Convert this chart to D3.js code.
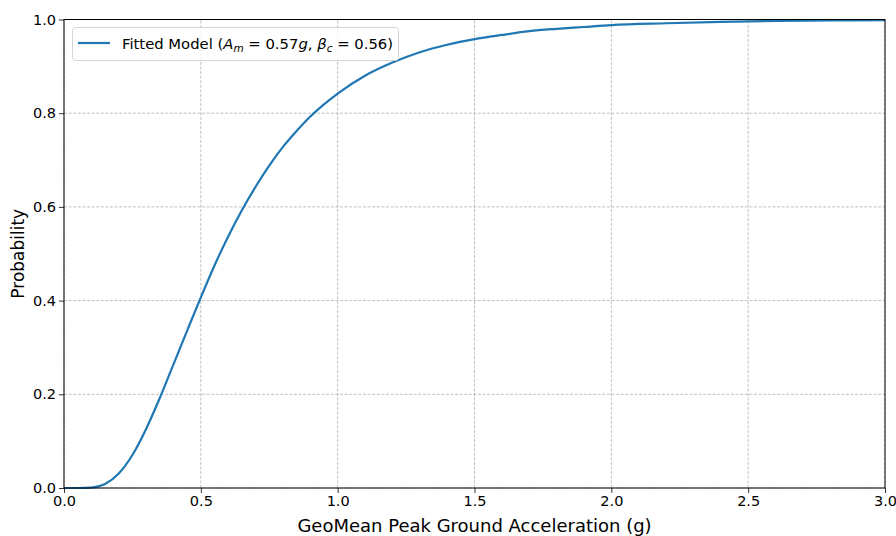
<!DOCTYPE html>
<html>
<head>
<meta charset="utf-8">
<script src="https://cdn.jsdelivr.net/npm/d3@7"></script>
<style>
  html, body { margin: 0; padding: 0; background: #fff; }
  svg { display: block; font-family: "DejaVu Sans", sans-serif; }
</style>
</head>
<body>
<svg id="chart" width="896" height="536"></svg>
<script>
// Fragility curve: probability of exceedance vs. geomean PGA
const pga = [0.0, 0.05, 0.1, 0.15, 0.2, 0.25, 0.3, 0.35, 0.4, 0.45, 0.5, 0.55, 0.6, 0.65, 0.7, 0.75,
             0.8, 0.85, 0.9, 0.95, 1.0, 1.1, 1.2, 1.3, 1.4, 1.5, 1.6, 1.7, 1.8, 1.9, 2.0,
             2.2, 2.4, 2.6, 2.8, 3.0];
const probability = [0.0, 0.00001, 0.0009, 0.0086, 0.031, 0.0705, 0.126, 0.192, 0.264, 0.336, 0.407,
                     0.475, 0.537, 0.593, 0.643, 0.688, 0.728, 0.762, 0.793, 0.819, 0.842,
                     0.880, 0.908, 0.930, 0.946, 0.958, 0.967, 0.975, 0.980, 0.984, 0.988,
                     0.992, 0.995, 0.997, 0.998, 0.9985];
const xTicks = [0.0, 0.5, 1.0, 1.5, 2.0, 2.5, 3.0];
const yTicks = [0.0, 0.2, 0.4, 0.6, 0.8, 1.0];

const svg = d3.select("#chart");
const margin = { left: 64, right: 11, top: 19.5, bottom: 48 };
const W = 896, H = 536;

const x = d3.scaleLinear().domain([0, 3]).range([margin.left, W - margin.right]);
const y = d3.scaleLinear().domain([0, 1]).range([H - margin.bottom, margin.top]);

// grid
const grid = svg.append("g");
grid.selectAll("line.gx").data(xTicks).join("line")
  .attr("x1", d => x(d)).attr("x2", d => x(d))
  .attr("y1", y(0)).attr("y2", y(1))
  .attr("stroke", "#b0b0b0").attr("stroke-width", 0.8).attr("stroke-dasharray", "3,1.6");
grid.selectAll("line.gy").data(yTicks).join("line")
  .attr("x1", x(0)).attr("x2", x(3))
  .attr("y1", d => y(d)).attr("y2", d => y(d))
  .attr("stroke", "#b0b0b0").attr("stroke-width", 0.8).attr("stroke-dasharray", "3,1.6");

// curve
const line = d3.line()
  .x((d, i) => x(pga[i]))
  .y(d => y(d))
  .curve(d3.curveMonotoneX);

svg.append("defs").append("clipPath").attr("id", "clip")
  .append("rect").attr("x", x(0)).attr("y", y(1) - 2).attr("width", x(3) - x(0)).attr("height", y(0) - y(1) + 4);

svg.append("path")
  .datum(probability)
  .attr("d", line)
  .attr("fill", "none")
  .attr("stroke", "#1f77b4")
  .attr("stroke-width", 2.2)
  .attr("clip-path", "url(#clip)");

// axes
const xAxis = d3.axisBottom(x).tickValues(xTicks).tickFormat(d3.format(".1f")).tickSize(5).tickPadding(3);
const yAxis = d3.axisLeft(y).tickValues(yTicks).tickFormat(d3.format(".1f")).tickSize(5).tickPadding(3);

const gx = svg.append("g").attr("transform", `translate(0,${y(0)})`).call(xAxis);
const gy = svg.append("g").attr("transform", `translate(${x(0)},0)`).call(yAxis);
[gx, gy].forEach(g => {
  g.select(".domain").remove();
  g.selectAll("line").attr("stroke", "#000").attr("stroke-width", 0.8);
  g.selectAll("text").attr("font-family", "DejaVu Sans, sans-serif").attr("font-size", 14.5).attr("fill", "#000");
});

// frame
svg.append("rect")
  .attr("x", x(0)).attr("y", y(1))
  .attr("width", x(3) - x(0)).attr("height", y(0) - y(1))
  .attr("fill", "none").attr("stroke", "#000").attr("stroke-width", 1);

// axis titles
svg.append("text")
  .attr("x", (x(0) + x(3)) / 2).attr("y", 532)
  .attr("text-anchor", "middle").attr("font-size", 18)
  .text("GeoMean Peak Ground Acceleration (g)");

svg.append("text")
  .attr("transform", `translate(24,${(y(0) + y(1)) / 2}) rotate(-90)`)
  .attr("text-anchor", "middle").attr("font-size", 17)
  .text("Probability");

// legend
const lg = svg.append("g");
lg.append("rect")
  .attr("x", 72.5).attr("y", 27.5).attr("width", 326).attr("height", 33).attr("rx", 3)
  .attr("fill", "#fff").attr("fill-opacity", 0.8).attr("stroke", "#d5d5d5").attr("stroke-width", 1);
lg.append("line")
  .attr("x1", 78).attr("x2", 110).attr("y1", 43).attr("y2", 43)
  .attr("stroke", "#1f77b4").attr("stroke-width", 2.2);
const lt = lg.append("text").attr("x", 122).attr("y", 48.5).attr("font-size", 14.8);
lt.append("tspan").text("Fitted Model (");
lt.append("tspan").attr("font-style", "italic").text("A");
lt.append("tspan").attr("font-style", "italic").attr("font-size", 10.5).attr("dy", 3).text("m");
lt.append("tspan").attr("dy", -3).text(" = 0.57");
lt.append("tspan").attr("font-style", "italic").text("g");
lt.append("tspan").text(", ");
lt.append("tspan").attr("font-style", "italic").text("β");
lt.append("tspan").attr("font-style", "italic").attr("font-size", 10.5).attr("dy", 3).text("c");
lt.append("tspan").attr("dy", -3).text(" = 0.56)");
</script>
</body>
</html>
